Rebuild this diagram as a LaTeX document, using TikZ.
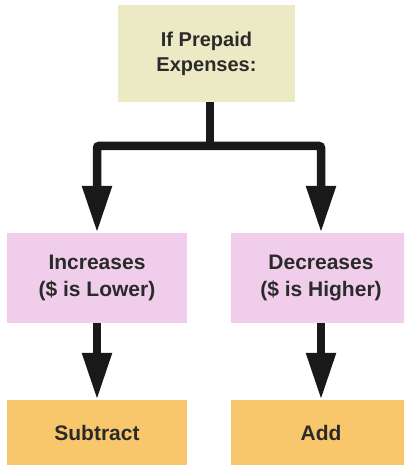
\documentclass[tikz,border=0pt]{standalone}
\usepackage{fontspec}
\setmainfont{Liberation Sans}
\usetikzlibrary{arrows.meta}
\definecolor{topfill}{HTML}{ECEAC4}
\definecolor{pinkfill}{HTML}{EFCDEB}
\definecolor{orangefill}{HTML}{F9C76B}
\definecolor{txt}{HTML}{2A2A2A}
\begin{document}
\begin{tikzpicture}[x=1pt,y=-1pt,
  box/.style={draw=none,rectangle,inner sep=0pt,align=center,text=txt,font=\bfseries\fontsize{21}{27}\selectfont},
  topbox/.style={box,fill=topfill,minimum width=177pt,minimum height=97pt,font=\bfseries\fontsize{20}{25}\selectfont},
  midbox/.style={box,fill=pinkfill,minimum width=180pt,minimum height=90pt},
  botbox/.style={box,fill=orangefill,minimum width=180pt,minimum height=65pt},
  conn/.style={line width=8.5pt,color=black!90},
  arr/.style={conn,-{Triangle[width=28pt,length=47pt]}}]
\useasboundingbox (0,0) rectangle (404,465);
\begin{scope}
\clip (0,0) rectangle (404,465);
\node[topbox] (top) at (206.5,53.5) {If Prepaid\\Expenses:};
\node[midbox] (l) at (97,278) {Increases\\(\$ is Lower)};
\node[midbox] (r) at (321,278) {Decreases\\(\$ is Higher)};
\node[botbox] (lb) at (97,432.5) {Subtract};
\node[botbox] (rb) at (321,432.5) {Add};
\end{scope}
\coordinate (j) at (210,146);
\draw[conn] (top.south -| j) -- (j);
\draw[arr,rounded corners=2pt] (j) -| (l.north);
\draw[arr,rounded corners=2pt] (j) -| (r.north);
\draw[arr] (l.south) -- (lb.north);
\draw[arr] (r.south) -- (rb.north);
\end{tikzpicture}
\end{document}
